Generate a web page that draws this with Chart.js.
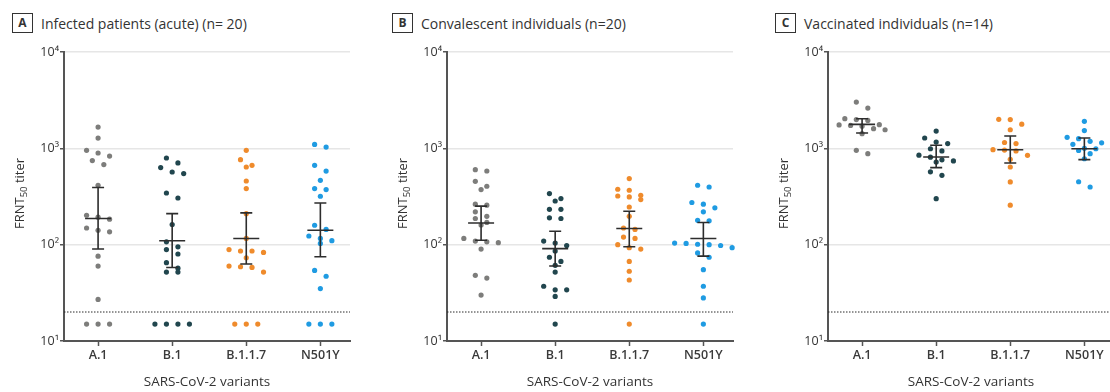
<!DOCTYPE html>
<html>
<head>
<meta charset="utf-8">
<script src="https://cdn.jsdelivr.net/npm/chart.js@4/dist/chart.umd.min.js"></script>
<style>
  html, body { margin: 0; padding: 0; background: #fff; overflow: hidden; }
  #page { position: relative; width: 1110px; height: 392px; overflow: hidden; font-family: "Open Sans", "Noto Sans", sans-serif; color: #333; }
  .panel { position: absolute; top: 40px; height: 352px; }
  .title { position: absolute; top: 13px; height: 20px; display: flex; align-items: center; font-size: 14px; white-space: nowrap; }
  .title b { box-sizing: border-box; width: 21px; height: 20px; border: 1.4px solid #333; text-align: center; line-height: 18px; font-size: 12px; margin-right: 8px; }
</style>
</head>
<body>
<div id="page">
  <div class="title" style="left:12px"><b>A</b>Infected patients (acute) (n= 20)</div>
  <div class="title" style="left:392px"><b>B</b>Convalescent individuals (n=20)</div>
  <div class="title" style="left:775px"><b>C</b>Vaccinated individuals (n=14)</div>
  <div class="panel" style="left:0;width:370px"><canvas id="chart-acute"></canvas></div>
  <div class="panel" style="left:370px;width:370px"><canvas id="chart-conv"></canvas></div>
  <div class="panel" style="left:740px;width:400px"><canvas id="chart-vacc"></canvas></div>
</div>
<script>
// categories and axis
const variants = ['A.1', 'B.1', 'B.1.1.7', 'N501Y'];
const yTickValues = [10, 100, 1000, 10000];
const yTickLabels = ['10¹', '10²', '10³', '10⁴'];
const lod = 20;

// A: infected patients (acute), FRNT50 per patient
const acuteA1 = [1663, 1279, 953, 894, 832, 746, 678, 414, 202, 193, 184, 149, 141, 136, 76, 60, 27, 15, 15, 15];
const acuteB1 = [794, 705, 631, 568, 547, 344, 305, 162, 107, 95, 89, 80, 65, 57, 52, 52, 15, 15, 15, 15];
const acuteB117 = [953, 763, 667, 640, 458, 382, 210, 116, 89, 86, 86, 83, 73, 60, 59, 58, 52, 15, 15, 15];
const acuteN501Y = [1099, 1030, 667, 580, 466, 382, 373, 318, 159, 144, 123, 116, 110, 103, 54, 47, 35, 15, 15, 15];
const acuteMean = [187, 110, 116, 141];
const acuteLow = [90, 58, 63, 75];
const acuteHigh = [392, 210, 214, 271];

// B: convalescent individuals
const convA1 = [601, 582, 455, 404, 373, 263, 257, 219, 197, 187, 170, 160, 116, 109, 107, 105, 90, 48, 45, 30];
const convB1 = [339, 301, 284, 233, 233, 190, 187, 109, 104, 98, 86, 74, 67, 61, 52, 37, 34, 34, 29, 15];
const convB117 = [485, 376, 367, 326, 320, 313, 294, 246, 197, 149, 144, 120, 116, 100, 93, 90, 67, 53, 43, 15];
const convN501Y = [414, 397, 274, 263, 241, 219, 179, 177, 104, 103, 101, 100, 98, 93, 82, 74, 55, 37, 28, 15];
const convMean = [168, 91, 147, 116];
const convLow = [111, 60, 95, 76];
const convHigh = [251, 138, 222, 170];

// C: vaccinated individuals
const vaccA1 = [3020, 2620, 2030, 1990, 1950, 1760, 1750, 1730, 1700, 1600, 1560, 1420, 953, 881];
const vaccB1 = [1510, 1280, 1160, 1120, 990, 940, 850, 810, 760, 740, 720, 570, 525, 300];
const vaccB117 = [2000, 1990, 1780, 1560, 1150, 1120, 968, 960, 940, 846, 769, 640, 448, 257];
const vaccN501Y = [1905, 1530, 1300, 1260, 1183, 1140, 1100, 1000, 990, 950, 880, 780, 450, 397];
const vaccMean = [1775, 813, 968, 991];
const vaccLow = [1441, 631, 705, 763];
const vaccHigh = [2030, 1075, 1343, 1280];

const colors = ['#7d7d7b', '#21464e', '#ef8b2c', '#1f9be2'];
const fontFamily = '"Open Sans", "Noto Sans", sans-serif';
const xMin = -0.46, xMax = 3.4;
const swarmStep = 11.5;   // px between dots in one row
const rowGap = 6;         // px: dots closer than this share a row

Chart.defaults.font.family = fontFamily;

const errorBars = {
  id: 'errorBars',
  afterDatasetsDraw(chart, args, opts) {
    const { ctx, scales: { x, y } } = chart;
    ctx.save();
    ctx.strokeStyle = '#2d2d2d';
    ctx.lineWidth = 1.6;
    opts.mean.forEach((m, i) => {
      const cx = x.getPixelForValue(i);
      const ym = y.getPixelForValue(m);
      const yl = y.getPixelForValue(opts.low[i]);
      const yh = y.getPixelForValue(opts.high[i]);
      ctx.beginPath();
      ctx.moveTo(cx, yl); ctx.lineTo(cx, yh);
      ctx.moveTo(cx - 6, yl); ctx.lineTo(cx + 6, yl);
      ctx.moveTo(cx - 6, yh); ctx.lineTo(cx + 6, yh);
      ctx.moveTo(cx - 13, ym); ctx.lineTo(cx + 13, ym);
      ctx.stroke();
    });
    ctx.restore();
  }
};

// rotated "FRNT50 titer" with subscript
const yTitle = {
  id: 'yTitle',
  afterDraw(chart) {
    const { ctx, chartArea } = chart;
    const big = '13px ' + fontFamily, small = '9.5px ' + fontFamily;
    ctx.save();
    ctx.translate(chartArea.left - 45, (chartArea.top + chartArea.bottom) / 2 - 3);
    ctx.rotate(-Math.PI / 2);
    ctx.fillStyle = '#333';
    ctx.font = big;
    const w1 = ctx.measureText('FRNT').width;
    const w3 = ctx.measureText(' titer').width;
    ctx.font = small;
    const w2 = ctx.measureText('50').width;
    let x0 = -(w1 + w2 + w3) / 2;
    ctx.font = big;
    ctx.fillText('FRNT', x0, 4.5);
    ctx.font = small;
    ctx.fillText('50', x0 + w1, 8);
    ctx.font = big;
    ctx.fillText(' titer', x0 + w1 + w2, 4.5);
    ctx.restore();
  }
};

function swarm(chart, groups) {
  const { x, y } = chart.scales;
  const unit = x.getPixelForValue(1) - x.getPixelForValue(0);
  groups.forEach((vals, i) => {
    const pts = vals.map(v => ({ v, py: y.getPixelForValue(v) })).sort((a, b) => a.py - b.py);
    const out = [];
    let row = [];
    const flush = () => {
      row.forEach((p, k) => out.push({ x: i + (k - (row.length - 1) / 2) * swarmStep / unit, y: p.v }));
      row = [];
    };
    pts.forEach(p => {
      if (row.length && p.py - row[0].py >= rowGap) flush();
      row.push(p);
    });
    flush();
    chart.data.datasets[i].data = out;
  });
  chart.update('none');
}

function makePanel(id, groups, mean, low, high, axisWidth, padRight) {
  const datasets = groups.map((vals, i) => ({
    data: vals.map(v => ({ x: i, y: v })),
    backgroundColor: colors[i],
    pointRadius: 2.6,
    pointHoverRadius: 2.6,
    pointBorderWidth: 0,
    clip: false
  }));
  datasets.push({
    data: [{ x: xMin, y: lod }, { x: xMax, y: lod }],
    showLine: true,
    borderColor: '#2a2a2a',
    borderWidth: 1,
    borderDash: [1.5, 1.5],
    pointRadius: 0
  });

  const chart = new Chart(document.getElementById(id), {
    type: 'scatter',
    data: { datasets },
    options: {
      responsive: true,
      maintainAspectRatio: false,
      animation: false,
      events: [],
      layout: { padding: { top: 12, right: padRight, left: 0, bottom: 0 } },
      plugins: {
        legend: { display: false },
        tooltip: { enabled: false },
        errorBars: { mean, low, high }
      },
      scales: {
        x: {
          type: 'linear', min: xMin, max: xMax,
          afterBuildTicks: s => { s.ticks = variants.map((_, i) => ({ value: i })); },
          afterFit: s => { s.height = 51; },
          ticks: { callback: v => variants[v], color: '#3a3a3a', font: { size: 12.5, weight: '600' }, padding: 2, autoSkip: false, maxRotation: 0 },
          grid: { drawOnChartArea: false, tickColor: '#555', tickLength: 5, tickWidth: 1.5 },
          border: { color: '#555', width: 2 },
          title: { display: true, text: 'SARS-CoV-2 variants', color: '#333', font: { size: 13.5 }, padding: { top: 0, bottom: 2 } }
        },
        y: {
          type: 'logarithmic', min: 10, max: 10000,
          afterBuildTicks: s => { s.ticks = yTickValues.map(v => ({ value: v })); },
          afterFit: s => { s.width = axisWidth; },
          ticks: { callback: v => yTickLabels[yTickValues.indexOf(v)], color: '#333', font: { size: 12.5 }, padding: 1 },
          grid: { color: '#e6e6e6', lineWidth: 1.5, tickColor: '#555', tickLength: 4, tickWidth: 1.5 },
          border: { color: '#555', width: 2 }
        }
      }
    },
    plugins: [errorBars, yTitle]
  });
  swarm(chart, groups);
  return chart;
}

makePanel('chart-acute', [acuteA1, acuteB1, acuteB117, acuteN501Y], acuteMean, acuteLow, acuteHigh, 64, 20);
makePanel('chart-conv', [convA1, convB1, convB117, convN501Y], convMean, convLow, convHigh, 77, 7);
makePanel('chart-vacc', [vaccA1, vaccB1, vaccB117, vaccN501Y], vaccMean, vaccLow, vaccHigh, 88, 26);
</script>
</body>
</html>
